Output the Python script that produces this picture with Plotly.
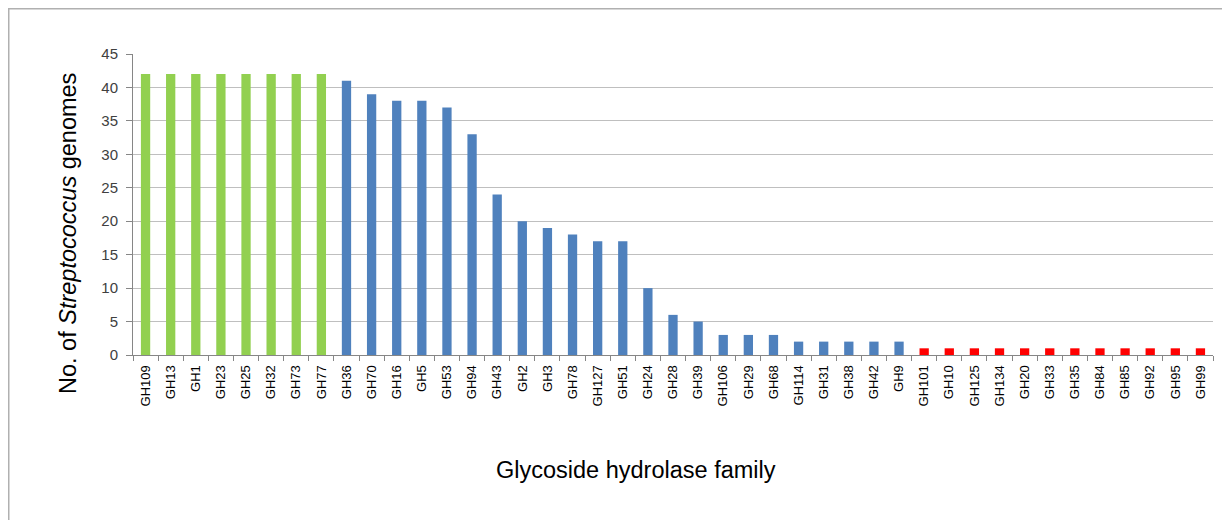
import plotly.graph_objects as go

families = ["GH109", "GH13", "GH1", "GH23", "GH25", "GH32", "GH73", "GH77",
            "GH36", "GH70", "GH16", "GH5", "GH53", "GH94", "GH43", "GH2", "GH3",
            "GH78", "GH127", "GH51", "GH24", "GH28", "GH39", "GH106", "GH29",
            "GH68", "GH114", "GH31", "GH38", "GH42", "GH9",
            "GH101", "GH10", "GH125", "GH134", "GH20", "GH33", "GH35", "GH84",
            "GH85", "GH92", "GH95", "GH99"]
genomes = [42, 42, 42, 42, 42, 42, 42, 42,
           41, 39, 38, 38, 37, 33, 24, 20, 19, 18, 17, 17, 10, 6, 5, 3, 3, 3,
           2, 2, 2, 2, 2,
           1, 1, 1, 1, 1, 1, 1, 1, 1, 1, 1, 1]
groups = ["core"] * 8 + ["variable"] * 23 + ["rare"] * 12
group_colors = {"core": "#92D050", "variable": "#4F81BD", "rare": "#FF0000"}
y_ticks = [0, 5, 10, 15, 20, 25, 30, 35, 40, 45]

fig = go.Figure(go.Bar(
    x=families, y=genomes,
    marker=dict(color=[group_colors[g] for g in groups], line=dict(width=0)),
    hoverinfo="x+y",
))

# page has an 8px body margin; figure coordinates = reference - 8
W, H = 1222, 512
L, T = 125, 46
R = W - 1205
B = H - 347
pw, ph = W - L - R, H - T - B


def px(xf):
    return (xf - L) / pw


def py(yf):
    return (H - B - yf) / ph


fig.update_layout(
    width=W, height=H,
    margin=dict(l=L, r=R, t=T, b=B),
    paper_bgcolor="white", plot_bgcolor="white",
    bargap=0.63,
    showlegend=False,
    font=dict(family="Liberation Sans, Arial, sans-serif", color="#404040"),
    xaxis=dict(
        type="category",
        tickangle=-90,
        tickfont=dict(size=13, color="#000000"),
        showline=True, linecolor="#868686", linewidth=1,
        ticks="outside", ticklen=5, tickcolor="#868686",
        tickson="boundaries",
        ticklabelstandoff=4,
        showgrid=False,
    ),
    yaxis=dict(
        range=[0, 45],
        tickvals=y_ticks,
        tickfont=dict(size=15, color="#404040"),
        showline=True, linecolor="#868686", linewidth=1,
        ticks="outside", ticklen=6, tickcolor="#868686",
        ticklabelstandoff=5,
        showgrid=True, gridcolor="#BFBFBF", gridwidth=1,
        zeroline=False,
    ),
    annotations=[
        dict(text="No. of <i>Streptococcus</i> genomes",
             xref="paper", yref="paper", x=px(59.5), y=py(225.5),
             xanchor="center", yanchor="middle", textangle=-90,
             showarrow=False, font=dict(size=23.5, color="#000000")),
        dict(text="Glycoside hydrolase family",
             xref="paper", yref="paper", x=px(628), y=py(462),
             xanchor="center", yanchor="middle",
             showarrow=False, font=dict(size=23.5, color="#000000")),
    ],
    shapes=[dict(
        type="rect", xref="paper", yref="paper",
        x0=px(0.5), x1=px(1240),
        y0=py(560), y1=py(0.5),
        line=dict(color="#B0B0B0", width=2), fillcolor="rgba(0,0,0,0)",
        layer="below",
    )],
)

fig.write_html("out.html")
